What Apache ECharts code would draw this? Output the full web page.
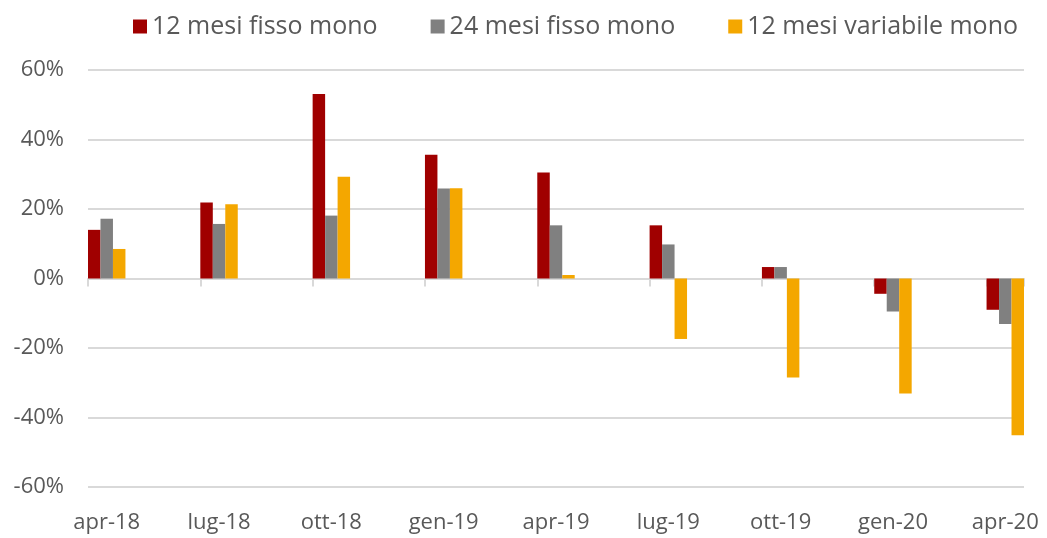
<!DOCTYPE html>
<html>
<head>
<meta charset="utf-8">
<script src="https://cdn.jsdelivr.net/npm/echarts@6/dist/echarts.min.js"></script>
<style>
  html, body { margin: 0; padding: 0; background: #fff; }
  #chart { width: 1047px; height: 538px; }
</style>
</head>
<body>
<div id="chart"></div>
<script>
// dati (variazioni %)
const categories = ['apr-18', 'lug-18', 'ott-18', 'gen-19', 'apr-19', 'lug-19', 'ott-19', 'gen-20', 'apr-20'];
const seriesNames = ['12 mesi fisso mono', '24 mesi fisso mono', '12 mesi variabile mono'];
const fisso12 = [14.0, 21.9, 53.1, 35.6, 30.5, 15.3, 3.3, -4.4, -9.0];
const fisso24 = [17.2, 15.7, 18.1, 25.9, 15.3, 9.8, 3.3, -9.5, -13.1];
const variabile12 = [8.5, 21.4, 29.3, 26.0, 1.0, -17.4, -28.5, -33.1, -45.1];
const yTicks = [-60, -40, -20, 0, 20, 40, 60];
const colors = ['#A00000', '#808080', '#F4A700'];

// asse mensile (come l'asse date di Excel): un dato ogni 3 mesi
const STEP = 3;
const nSlots = (categories.length - 1) * STEP + 1;
const slots = [];
for (let i = 0; i < nSlots; i++) slots.push(i % STEP === 0 ? categories[i / STEP] : '');
function spread(arr) {
    const out = [];
    for (let i = 0; i < nSlots; i++) out.push(i % STEP === 0 ? arr[i / STEP] : '-');
    return out;
}
const everyStep = function (idx) { return idx % STEP === 0; };
const txt = '#595959';
const grid = '#D9D9D9';

function setOption(ident, opt) {
    let myChart = echarts.init(document.getElementById(ident));
    myChart.setOption(opt);
}

setOption('chart', {
    animation: false,
    textStyle: { fontFamily: 'Open Sans' },
    color: colors,
    legend: {
        left: 128,
        top: 9,
        icon: 'rect',
        itemWidth: 14,
        itemHeight: 14,
        itemGap: 53,
        textStyle: { fontSize: 25, color: txt },
        data: seriesNames
    },
    grid: { left: 88, right: 23, top: 70, bottom: 51 },
    xAxis: [
        {
            type: 'category',
            data: slots,
            boundaryGap: true,
            position: 'bottom',
            axisLine: { onZero: true, lineStyle: { color: grid, width: 2 } },
            axisTick: { show: true, interval: everyStep, length: 8, lineStyle: { color: grid, width: 2 } },
            axisLabel: { show: false }
        },
        {
            type: 'category',
            data: slots,
            boundaryGap: true,
            position: 'bottom',
            axisLine: { show: false, onZero: false },
            axisTick: { show: false },
            axisLabel: { interval: everyStep, fontSize: 22, color: txt, margin: 25 }
        }
    ],
    yAxis: {
        type: 'value',
        min: yTicks[0],
        max: yTicks[yTicks.length - 1],
        interval: 20,
        axisLine: { show: false },
        axisTick: { show: false },
        axisLabel: { fontSize: 22, color: txt, margin: 24, formatter: '{value}%' },
        splitLine: { lineStyle: { color: grid, width: 2 } }
    },
    series: [
        { name: seriesNames[0], type: 'bar', xAxisIndex: 0, barGap: 0, barCategoryGap: 0, data: spread(fisso12) },
        { name: seriesNames[1], type: 'bar', xAxisIndex: 0, barGap: 0, barCategoryGap: 0, data: spread(fisso24) },
        { name: seriesNames[2], type: 'bar', xAxisIndex: 0, barGap: 0, barCategoryGap: 0, data: spread(variabile12) }
    ]
});
</script>
</body>
</html>
